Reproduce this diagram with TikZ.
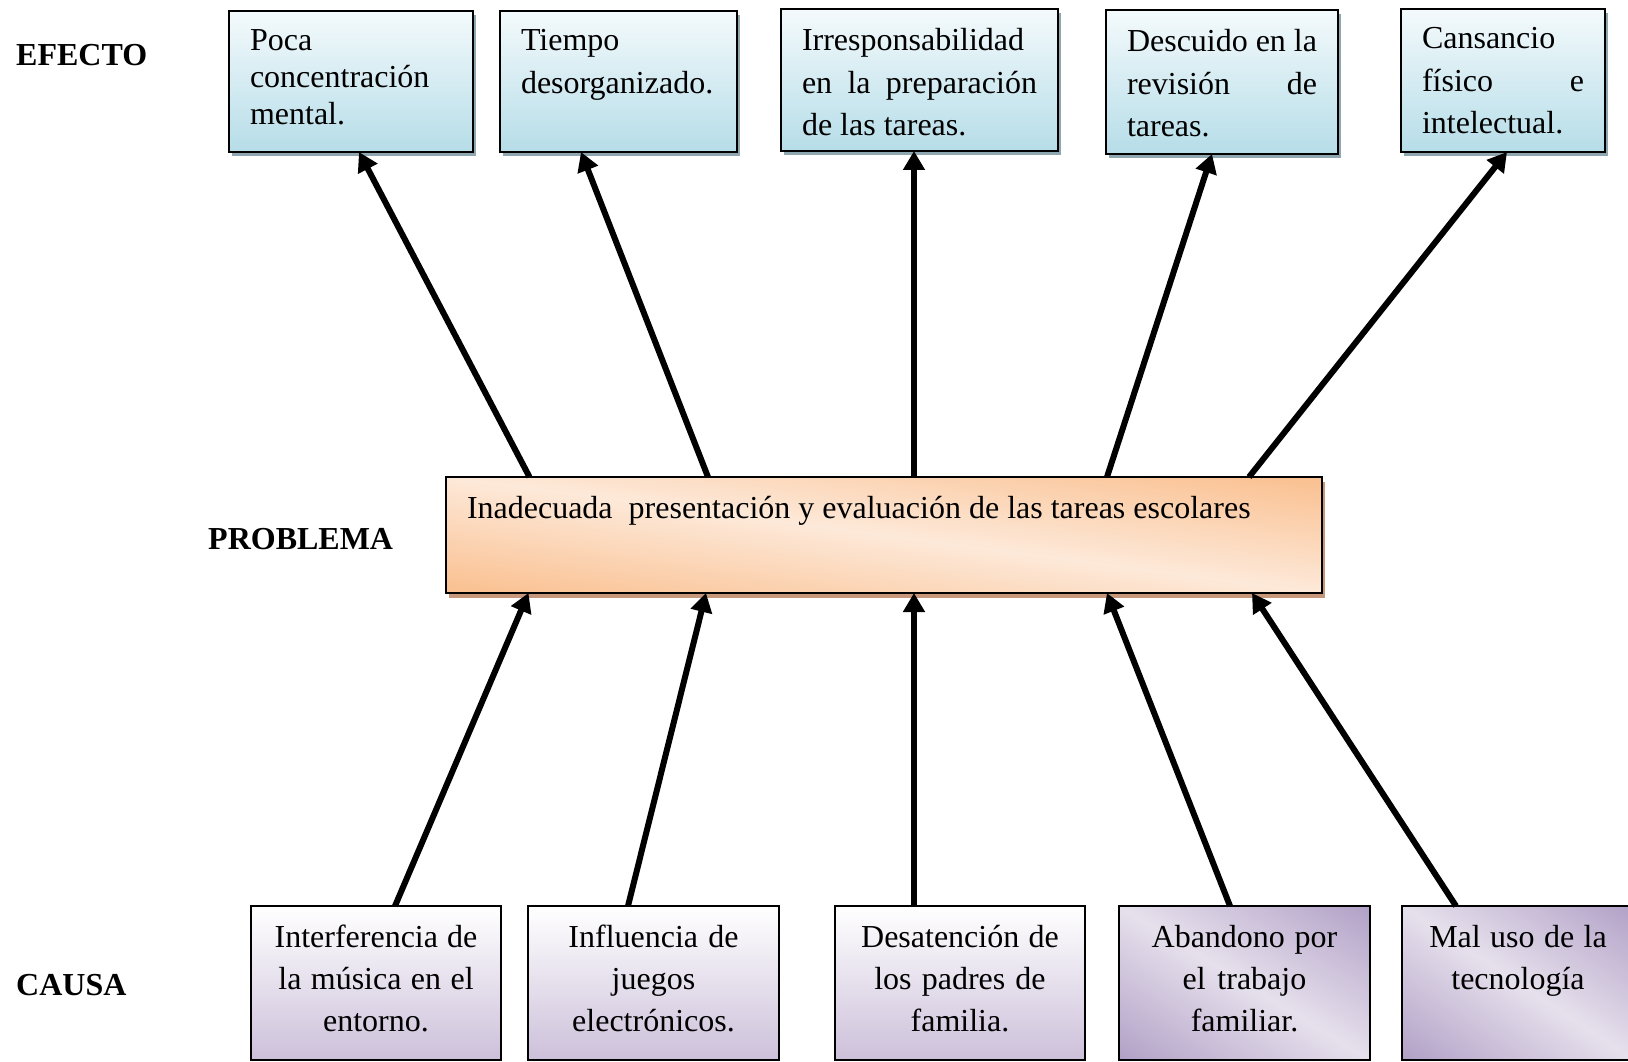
\documentclass[tikz,border=0pt]{standalone}
\usepackage{fontspec}
\setmainfont{Liberation Serif}
\usetikzlibrary{arrows.meta,shadows}

\definecolor{blueTop}{HTML}{F4FAFC}
\definecolor{blueBot}{HTML}{B6DDE8}
\definecolor{blueShadow}{HTML}{8FA7B0}
\definecolor{orDark}{HTML}{FAC090}
\definecolor{orLight}{HTML}{FDE9D9}
\definecolor{orShadow}{HTML}{C6977A}
\definecolor{puTop}{HTML}{FFFFFF}
\definecolor{puBot}{HTML}{CCC0DA}
\definecolor{puDark}{HTML}{B2A1C7}
\definecolor{puLight}{HTML}{E6E0EC}

\pgfdeclarehorizontalshading{orDiag}{100bp}{color(0bp)=(orDark); color(15bp)=(orDark); color(50bp)=(orLight); color(85bp)=(orDark); color(100bp)=(orDark)}
\pgfdeclarehorizontalshading{puDiag}{100bp}{color(0bp)=(puDark); color(15bp)=(puDark); color(50bp)=(puLight); color(85bp)=(puDark); color(100bp)=(puDark)}

% diagonal gradient scaled to the box (x, y, w, h, shading)
\newcommand\diagfill[5]{%
  \shade[shading=#5, shading angle=45,
    transform canvas={shift={(#1+#3/2,#2+#4/2)}, xscale=#3/100, yscale=#4/100}]
    (-50,-50) rectangle (50,50);}

\tikzset{
  txt/.style={font=\fontsize{32pt}{41pt}\selectfont},
  lbl/.style={font=\fontsize{32pt}{41pt}\selectfont\bfseries, anchor=base west, inner sep=0pt},
  boxbase/.style={draw=black, line width=2pt, outer sep=0pt, inner ysep=0pt, anchor=north west, txt,
    execute at begin node={\spaceskip=0pt\relax\xspaceskip=0pt\relax}},
  ebox/.style={boxbase, inner xsep=21pt, align=left, top color=blueTop, bottom color=blueBot,
    general shadow={fill=blueShadow, shadow xshift=3pt, shadow yshift=-4pt}},
  pbox/.style={boxbase, inner xsep=21pt, align=left},
  cbox/.style={boxbase, inner xsep=5pt, align=center, top color=puTop, bottom color=puBot,
    font=\fontsize{32pt}{42pt}\selectfont},
  cboxd/.style={boxbase, inner xsep=5pt, align=center, font=\fontsize{32pt}{42pt}\selectfont},
  arr/.style={line width=6pt, -{Triangle[length=19pt,width=21pt]}},
}

\begin{document}
\begin{tikzpicture}[x=1pt, y=-1pt]
\useasboundingbox (0,0) rectangle (1628,1062);
\clip (0,0) rectangle (1628,1062);

% labels
\node[lbl] (lefecto) at (16,66) {EFECTO};
\node[lbl] (lproblema) at (208,549) {PROBLEMA};
\node[lbl] (lcausa) at (16,995) {CAUSA};

% effect boxes
\node[ebox, text width=202pt, text height=40pt, text depth=101pt, font=\fontsize{32pt}{37pt}\selectfont] (e1) at (229,11) {Poca\\concentración\\mental.};
\node[ebox, text width=195pt, text height=40pt, text depth=101pt, font=\fontsize{32pt}{42.5pt}\selectfont] (e2) at (500,11) {Tiempo\\desorganizado.};
\node[ebox, text width=235pt, text height=42pt, text depth=100pt, font=\fontsize{32pt}{42.5pt}\selectfont] (e3) at (781,9) {Irresponsabilidad\\\makebox[\linewidth][s]{en la preparación}\\de las tareas.};
\node[ebox, text width=190pt, text height=42pt, text depth=102pt, font=\fontsize{32pt}{42.5pt}\selectfont] (e4) at (1106,10) {\makebox[\linewidth][s]{Descuido en la}\\revisión\hfill de\\tareas.};
\node[ebox, text width=162pt, text height=40pt, text depth=103pt, font=\fontsize{32pt}{42.5pt}\selectfont] (e5) at (1401,9) {Cansancio\\físico\hfill e\\intelectual.};

% problem box: shadow and diagonal gradient, then the framed node
\fill[orShadow] (449,482) rectangle (1325,598);
\diagfill{446}{477}{876}{116}{orDiag}
\node[pbox, text width=834pt, text height=41pt, text depth=75pt] (p) at (446,477) {Inadecuada\ \ presentación y evaluación de las tareas escolares};

% cause boxes
\node[cbox, text width=240pt, text height=41pt, text depth=113pt] (c1) at (251,906) {Interferencia de\\la música en el\\entorno.};
\node[cbox, text width=241pt, text height=41pt, text depth=113pt] (c2) at (528,906) {Influencia de\\juegos\\electrónicos.};
\node[cbox, text width=240pt, text height=41pt, text depth=113pt] (c3) at (835,906) {Desatención de\\los padres de\\familia.};
\diagfill{1119}{906}{251}{154}{puDiag}
\node[cboxd, text width=241pt, text height=41pt, text depth=113pt] (c4) at (1119,906) {Abandono por\\el trabajo\\familiar.};
\diagfill{1402}{906}{232}{154}{puDiag}
\node[cboxd, text width=222pt, text height=41pt, text depth=113pt] (c5) at (1402,906) {Mal uso de la\\tecnología};

% effect arrows
\draw[arr] ([xshift=83.5pt]p.north west) -- ([xshift=130pt]e1.south west);
\draw[arr] ([xshift=262pt]p.north west) -- ([xshift=81pt]e2.south west);
\draw[arr] ([xshift=468pt]p.north west) -- ([xshift=133pt]e3.south west);
\draw[arr] ([xshift=661pt]p.north west) -- ([xshift=106pt]e4.south west);
\draw[arr] ([xshift=803pt]p.north west) -- ([xshift=106pt]e5.south west);

% cause arrows
\draw[arr] ([xshift=144pt]c1.north west) -- ([xshift=82.5pt]p.south west);
\draw[arr] ([xshift=100pt]c2.north west) -- ([xshift=260pt]p.south west);
\draw[arr] ([xshift=79pt]c3.north west) -- ([xshift=468pt]p.south west);
\draw[arr] ([xshift=111pt]c4.north west) -- ([xshift=661pt]p.south west);
\draw[arr] ([xshift=54pt]c5.north west) -- ([xshift=806pt]p.south west);
\end{tikzpicture}
\end{document}
